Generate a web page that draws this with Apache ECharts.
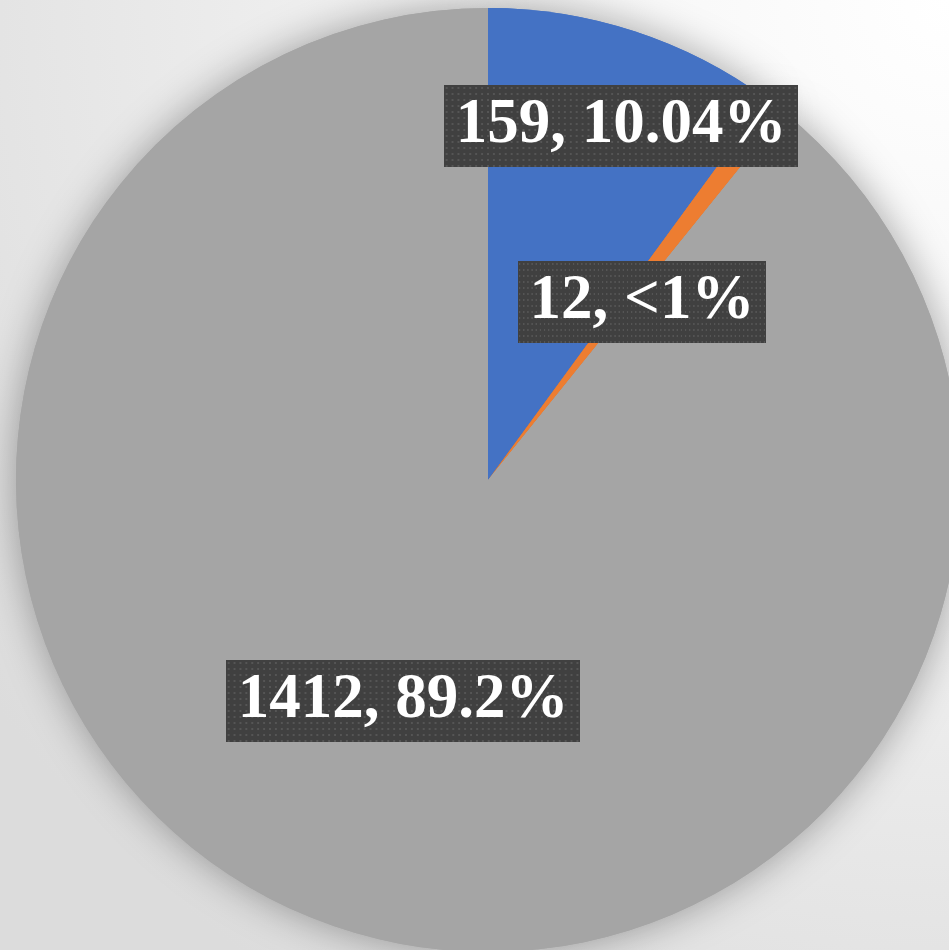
<!DOCTYPE html>
<html>
<head>
<meta charset="utf-8">
<script src="https://cdn.jsdelivr.net/npm/echarts@6/dist/echarts.min.js"></script>
<style>
html,body{margin:0;padding:0;width:949px;height:950px;overflow:hidden;background:#ececec;}
#chart{width:949px;height:950px;}
</style>
</head>
<body>
<div id="chart"></div>
<script>
const categories = ['A', 'B', 'C'];
const values = [159, 12, 1412];
const labelTexts = ['159, 10.04%', '12, <1%', '1412, 89.2%'];
const colors = ['#4472C4', '#ED7D31', '#A5A5A5'];

// label box centres (layout only)
const labelCentres = [[621, 126], [642, 302], [403, 701]];

function dotCanvas(w, h) {
  const c = document.createElement('canvas');
  c.width = w; c.height = h;
  const ctx = c.getContext('2d');
  ctx.fillStyle = '#404040';
  ctx.fillRect(0, 0, w, h);
  ctx.fillStyle = '#555555';
  for (let y = 2; y < h; y += 6) {
    for (let x = 2; x < w; x += 6) {
      ctx.fillRect(x, y, 2, 2);
    }
  }
  return c;
}
const bgImg = dotCanvas(360, 82);

const pieData = categories.map((n, i) => ({
  name: n,
  value: values[i],
  itemStyle: { color: colors[i] }
}));

const chart = echarts.init(document.getElementById('chart'), null, { renderer: 'canvas' });
chart.setOption({
  backgroundColor: {
    type: 'radial', x: 1, y: 0, r: 1.25,
    colorStops: [
      { offset: 0, color: '#ffffff' },
      { offset: 0.45, color: '#f2f2f2' },
      { offset: 1, color: '#dcdcdc' }
    ]
  },
  animation: false,
  series: [
    {
      type: 'pie',
      silent: true,
      center: [488, 480],
      radius: [0, 472],
      startAngle: 90,
      clockwise: true,
      z: 1,
      label: { show: false },
      labelLine: { show: false },
      itemStyle: {
        shadowBlur: 40,
        shadowColor: 'rgba(0,0,0,0.35)',
        shadowOffsetX: 0,
        shadowOffsetY: 0
      },
      data: pieData
    },
    {
      type: 'pie',
      center: [488, 480],
      radius: [0, 472],
      startAngle: 90,
      clockwise: true,
      z: 2,
      itemStyle: { borderWidth: 0 },
      labelLine: { show: false },
      label: {
        show: true,
        position: 'inside',
        formatter: (p) => labelTexts[p.dataIndex],
        color: '#ffffff',
        fontFamily: '"Liberation Serif", "Times New Roman", serif',
        fontWeight: 'bold',
        fontSize: 63,
        lineHeight: 66,
        padding: [8, 12, 8, 12],
        backgroundColor: { image: bgImg },
        shadowColor: 'rgba(0,0,0,0.6)',
        shadowBlur: 6,
        shadowOffsetX: 4,
        shadowOffsetY: 4
      },
      labelLayout: (params) => ({
        x: labelCentres[params.dataIndex][0],
        y: labelCentres[params.dataIndex][1],
        align: 'center',
        verticalAlign: 'middle'
      }),
      data: pieData
    }
  ]
});
</script>
</body>
</html>
